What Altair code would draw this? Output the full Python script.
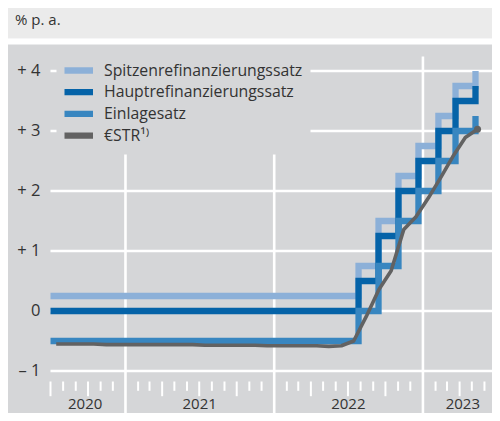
import altair as alt
import pandas as pd

# ---------------- data ----------------
# ECB key interest rates: value valid from each change date, % p.a.
rate_dates = ["2020-07-01", "2022-07-27", "2022-09-14", "2022-11-02",
              "2022-12-21", "2023-02-08", "2023-03-22", "2023-05-10"]
spitzen = [0.25, 0.75, 1.50, 2.25, 2.75, 3.25, 3.75, 4.00]
haupt = [0.00, 0.50, 1.25, 2.00, 2.50, 3.00, 3.50, 3.75]
einlage = [-0.50, 0.00, 0.75, 1.50, 2.00, 2.50, 3.00, 3.25]

# €STR, monthly values (plotted mid-month), Jul 2020 - May 2023
estr_dates = [d.strftime("%Y-%m-15") for d in pd.date_range("2020-07-01", "2023-05-01", freq="MS")]
estr = [-0.55, -0.55, -0.55, -0.55, -0.56, -0.56,
        -0.56, -0.56, -0.56, -0.56, -0.56, -0.56, -0.57, -0.57, -0.57, -0.57, -0.57, -0.58,
        -0.58, -0.58, -0.58, -0.58, -0.59, -0.58, -0.50, -0.09, 0.36, 0.67, 1.36, 1.57,
        1.89, 2.24, 2.57, 2.89, 3.03]

series_names = ["Spitzenrefinanzierungssatz", "Hauptrefinanzierungssatz", "Einlagesatz", "€STR¹⁾"]
series_colors = ["#8cb0d8", "#0563a8", "#3886c0", "#626262"]

grid_values = [-1, 0, 1, 2, 3, 4]
year_lines = ["2021-01-01", "2022-01-01", "2023-01-01"]
year_labels = ["2020", "2021", "2022", "2023"]
year_label_dates = ["2020-09-24", "2021-07-02", "2022-07-02", "2023-04-09"]
month_starts = [d for d in pd.date_range("2020-07-01", "2023-07-01", freq="MS") if d.month != 1]
short_ticks = [d.strftime("%Y-%m-%d") for d in month_starts if d.month not in (4, 7, 10)]
long_ticks = [d.strftime("%Y-%m-%d") for d in month_starts if d.month in (4, 7, 10)]

# ---------------- styling ----------------
FONT = "Open Sans"
TEXT = "#333333"
BG = "#d5d6d8"
W, H = 442, 368
YMIN, YMAX = -1.7, 4.4333

rates = pd.concat([
    pd.DataFrame({"date": rate_dates, "value": v, "series": n})
    for v, n in zip([spitzen, haupt, einlage], series_names[:3])
])
estr_df = pd.DataFrame({"date": estr_dates, "value": estr, "series": series_names[3]})

xscale = alt.Scale(type="utc", domain=[
    alt.DateTime(year=2020, month=6, date=29, hours=18, minutes=33, utc=True),
    alt.DateTime(year=2023, month=6, date=19, hours=12, utc=True)])
yscale = alt.Scale(domain=[YMIN, YMAX], nice=False, zero=False)
cscale = alt.Scale(domain=series_names, range=series_colors)

one = alt.Data(values=[{}])

header = alt.Chart(one).mark_rect(color="#ebebeb").encode(
    x=alt.value(-42), x2=alt.value(W), y=alt.value(-37), y2=alt.value(-6.7))
gap = alt.Chart(one).mark_rect(color="#ffffff").encode(
    x=alt.value(-42), x2=alt.value(W), y=alt.value(-6.7), y2=alt.value(-0.5))
unit = alt.Chart(one).mark_text(text="% p. a.", font=FONT, fontSize=15, color=TEXT,
                                align="left", baseline="alphabetic").encode(
    x=alt.value(-35), y=alt.value(-20))

hgrid = alt.Chart(pd.DataFrame({"v": grid_values})).mark_rule(color="white", strokeWidth=2.6).encode(
    y=alt.Y("v:Q", scale=yscale, axis=alt.Axis(
        values=grid_values, domain=False, ticks=False, grid=False, title=None,
        labelFont=FONT, labelFontSize=16.5, labelColor=TEXT, labelPadding=10,
        labelExpr="datum.value > 0 ? '+ ' + datum.value : (datum.value < 0 ? '\u2013 ' + abs(datum.value) : '0')")),
    x=alt.XDatum(alt.DateTime(year=2020, month=7, date=1, utc=True), type="temporal", scale=xscale, axis=None),
    x2=alt.X2Datum(alt.DateTime(year=2023, month=7, date=1, utc=True)))

vgrid = alt.Chart(pd.DataFrame({"d": year_lines})).mark_rule(color="white", strokeWidth=2.6).encode(
    x=alt.X("d:T", scale=xscale, axis=None),
    y=alt.YDatum(4.24), y2=alt.Y2Datum(YMIN))

sticks = alt.Chart(pd.DataFrame({"d": short_ticks})).mark_rule(color="white", strokeWidth=2).encode(
    x=alt.X("d:T", scale=xscale, axis=None),
    y=alt.YDatum(-1.175), y2=alt.Y2Datum(-1.33))
lticks = alt.Chart(pd.DataFrame({"d": long_ticks})).mark_rule(color="white", strokeWidth=2).encode(
    x=alt.X("d:T", scale=xscale, axis=None),
    y=alt.YDatum(-1.175), y2=alt.Y2Datum(-1.42))

ylab = alt.Chart(pd.DataFrame({"d": year_label_dates, "t": year_labels})).mark_text(
    font=FONT, fontSize=15, color=TEXT, baseline="alphabetic", align="center").encode(
    x=alt.X("d:T", scale=xscale, axis=None), y=alt.YDatum(-1.64), text="t:N")

legend = alt.Legend(orient="none", legendX=6.5, legendY=7.5, title=None,
                    symbolType="M-2.72,0H2.72", symbolSize=185, symbolStrokeWidth=6.3,
                    labelFont=FONT, labelFontSize=15.8, labelColor=TEXT, labelLimit=400,
                    fillColor=BG, padding=8, rowPadding=1.7, clipHeight=20, labelOffset=19.5)


def step_line(name):
    return alt.Chart(rates[rates.series == name]).mark_line(
        interpolate="step-after", strokeWidth=6.3, strokeJoin="miter", strokeCap="butt").encode(
        x=alt.X("date:T", scale=xscale, axis=None),
        y=alt.Y("value:Q", scale=yscale),
        color=alt.Color("series:N", scale=cscale, legend=legend))


l1 = step_line(series_names[0])
l2 = step_line(series_names[1])
l3 = step_line(series_names[2])
l4 = alt.Chart(estr_df).mark_line(strokeWidth=3.6, strokeJoin="round").encode(
    x=alt.X("date:T", scale=xscale, axis=None),
    y=alt.Y("value:Q", scale=yscale),
    color=alt.Color("series:N", scale=cscale, legend=legend))
dot = alt.Chart(estr_df.tail(1)).mark_point(filled=True, size=50, opacity=1, color="#626262").encode(
    x=alt.X("date:T", scale=xscale, axis=None),
    y=alt.Y("value:Q", scale=yscale))

chart = alt.layer(header, gap, unit, hgrid, vgrid, sticks, lticks, ylab, l1, l2, l3, l4, dot).properties(
    width=W, height=H,
    padding={"left": 42, "top": 37, "right": 0, "bottom": 0},
    autosize=alt.AutoSizeParams(type="none"),
    background=BG,
).configure_view(stroke=None)

chart.save("out.html", embed_options={"renderer": "svg", "actions": False})
